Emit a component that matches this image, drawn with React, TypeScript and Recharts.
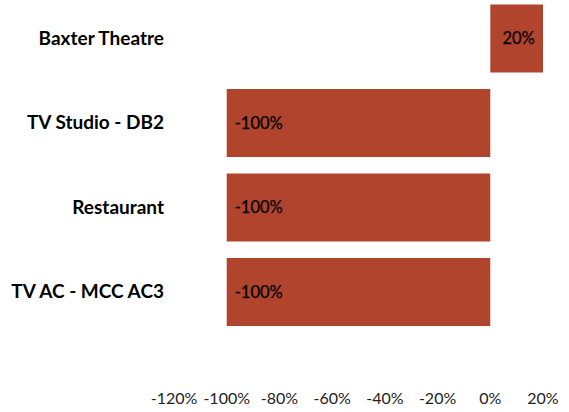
import React from "react";
import { BarChart, Bar, XAxis, YAxis, LabelList } from "recharts";

const categories = ["Baxter Theatre", "TV Studio - DB2", "Restaurant", "TV AC - MCC AC3"];
const changeValues = [20, -100, -100, -100];
const xTicks = [-120, -100, -80, -60, -40, -20, 0, 20];

const data = categories.map((name, i) => ({ name, value: changeValues[i] }));

const FONT = "Lato, 'Open Sans', sans-serif";
const BAR_COLOR = "#B1442D";

const BarLabel = (props: any) => {
  const { x, y, width, height, value } = props;
  const left = Math.min(x, x + width);
  const w = Math.abs(width);
  const cy = y + height / 2;
  if (value >= 0) {
    return (
      <text x={left + w / 2 + 2} y={cy} textAnchor="middle" dominantBaseline="central"
        fontFamily={FONT} fontSize={16.5} fill="#000" stroke="#000" strokeWidth={0.25}>
        {`${value}%`}
      </text>
    );
  }
  return (
    <text x={left + 8} y={cy} textAnchor="start" dominantBaseline="central"
      fontFamily={FONT} fontSize={16.5} fill="#000" stroke="#000" strokeWidth={0.25}>
      {`${value}%`}
    </text>
  );
};

export default function App() {
  return (
    <div style={{ position: "absolute", top: -4, left: 0 }}>
      <BarChart
        width={569}
        height={416}
        data={data}
        layout="vertical"
        margin={{ top: 0, right: 26, bottom: 0, left: 0 }}
        barCategoryGap="10%"
      >
        <XAxis
          type="number"
          domain={[-120, 20]}
          ticks={xTicks}
          tickFormatter={(v: number) => `${v}%`}
          axisLine={false}
          tickLine={false}
          height={78}
          tickMargin={53}
          interval={0}
          tick={{ fontFamily: FONT, fontSize: 16, fill: "#222" }}
        />
        <YAxis
          type="category"
          dataKey="name"
          width={174}
          axisLine={false}
          tickLine={false}
          tickMargin={4}
          tick={{ fontFamily: FONT, fontSize: 19, fontWeight: 700, fill: "#000" }}
        />
        <Bar dataKey="value" fill={BAR_COLOR} isAnimationActive={false}>
          <LabelList dataKey="value" content={BarLabel} />
        </Bar>
      </BarChart>
    </div>
  );
}
